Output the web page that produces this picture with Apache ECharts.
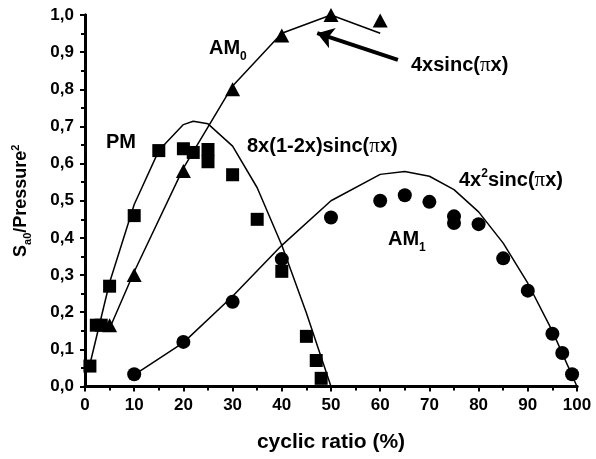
<!DOCTYPE html>
<html>
<head>
<meta charset="utf-8">
<script src="https://cdn.jsdelivr.net/npm/echarts@6/dist/echarts.min.js"></script>
<style>
  html, body { margin: 0; padding: 0; background: #fff; }
  #chart { width: 596px; height: 459px; }
</style>
</head>
<body>
<div id="chart"></div>
<script>
// measured points (cyclic ratio %, S_a0/Pressure^2)
const pmX = [1, 2.3, 3.3, 5, 10, 15, 20, 22, 25, 25, 30, 35, 40, 45, 47, 48];
const pmY = [0.055, 0.165, 0.165, 0.27, 0.46, 0.635, 0.64, 0.63, 0.638, 0.605, 0.57, 0.45, 0.31, 0.135, 0.07, 0.022];

const am0X = [5, 10, 20, 30, 40, 50, 60];
const am0Y = [0.165, 0.30, 0.58, 0.80, 0.945, 1.0, 0.985];

const am1X = [10, 20, 30, 40, 50, 60, 65, 70, 75, 75, 80, 85, 90, 95, 97, 99];
const am1Y = [0.033, 0.12, 0.228, 0.343, 0.455, 0.50, 0.515, 0.497, 0.458, 0.44, 0.437, 0.345, 0.258, 0.142, 0.09, 0.033];

// theory curves
const pmCurveX = [1, 5, 10, 15, 20, 22, 25, 30, 35, 40, 45, 50];
const pmCurveY = [0.06, 0.28, 0.49, 0.635, 0.705, 0.714, 0.707, 0.647, 0.535, 0.38, 0.198, 0];

const am0CurveX = [5, 10, 20, 30, 40, 50, 60];
const am0CurveY = [0.156, 0.309, 0.588, 0.809, 0.951, 1.0, 0.951];

const am1CurveX = [10, 20, 30, 40, 50, 60, 65, 70, 75, 80, 85, 90, 95, 100];
const am1CurveY = [0.031, 0.118, 0.243, 0.38, 0.5, 0.571, 0.579, 0.566, 0.53, 0.47, 0.386, 0.278, 0.149, 0];

// arrow pointing at the AM0 curve
const arrowFrom = [63.6, 0.879];
const arrowTo = [47.2, 0.951];

const FONT = 'Liberation Sans, Arial, sans-serif';

function zip(xs, ys) {
  return xs.map((x, i) => [x, ys[i]]);
}

const chart = echarts.init(document.getElementById('chart'));

const lineStyle = { color: '#000', width: 1.5 };

function curve(xs, ys, extra) {
  return Object.assign({
    type: 'line',
    data: zip(xs, ys),
    showSymbol: false,
    symbol: 'none',
    lineStyle: lineStyle,
    clip: false,
    z: 2
  }, extra || {});
}

function marks(xs, ys, symbol, size) {
  return {
    type: 'scatter',
    data: zip(xs, ys),
    symbol: symbol,
    symbolSize: size,
    itemStyle: { color: '#000', opacity: 1 },
    clip: false,
    z: 3
  };
}

const labelRich = {
  m: { fontFamily: FONT, fontWeight: 'bold', fontSize: 20, color: '#000' },
  s: { fontFamily: FONT, fontWeight: 'bold', fontSize: 12, color: '#000', verticalAlign: 'bottom', padding: [18, 0, 0, 0] },
  u: { fontFamily: FONT, fontWeight: 'bold', fontSize: 12, color: '#000', verticalAlign: 'top', padding: [0, 0, 12, 0] },
  p: { fontFamily: 'Liberation Serif, Times New Roman, serif', fontSize: 21, color: '#000' }
};

function note(x, y, text) {
  return {
    type: 'text',
    left: x,
    top: y,
    z: 10,
    style: { text: text, rich: labelRich, fill: '#000' }
  };
}

const option = {
  animation: false,
  backgroundColor: '#fff',
  grid: { left: 85, right: 19, top: 15, bottom: 72.5 },
  xAxis: [{
    type: 'value', min: 0, max: 100, interval: 10,
    name: 'cyclic ratio (%)', nameLocation: 'middle', nameGap: 45,
    nameTextStyle: { fontFamily: FONT, fontWeight: 'bold', fontSize: 21, color: '#000' },
    axisLine: { lineStyle: { color: '#000', width: 3 } },
    axisTick: { inside: false, length: 5, lineStyle: { color: '#000', width: 2 } },
    minorTick: { show: true, splitNumber: 2, length: 4, lineStyle: { color: '#000', width: 2 } },
    axisLabel: { fontFamily: FONT, fontWeight: 'bold', fontSize: 17, color: '#000', margin: 10 },
    splitLine: { show: false }
  }, {
    type: 'value', min: 0, max: 100, interval: 10, position: 'top',
    axisLine: { lineStyle: { color: '#000', width: 3 } },
    axisTick: { inside: true, length: 4, lineStyle: { color: '#000', width: 2 } },
    minorTick: { show: true, splitNumber: 2, length: 4, lineStyle: { color: '#000', width: 2 } },
    axisLabel: { show: false },
    splitLine: { show: false }
  }],
  yAxis: [{
    type: 'value', min: 0, max: 1, interval: 0.1,
    name: '{m|S}{s|a0}{m|/Pressure}{u|2}', nameLocation: 'middle', nameGap: 52,
    nameTextStyle: {
      rich: {
        m: { fontFamily: FONT, fontWeight: 'bold', fontSize: 18, color: '#000' },
        s: { fontFamily: FONT, fontWeight: 'bold', fontSize: 11, color: '#000', verticalAlign: 'bottom', padding: [12, 0, 0, 0] },
        u: { fontFamily: FONT, fontWeight: 'bold', fontSize: 11, color: '#000', verticalAlign: 'top', padding: [0, 0, 12, 0] }
      }
    },
    axisLine: { lineStyle: { color: '#000', width: 3 } },
    axisTick: { inside: false, length: 5, lineStyle: { color: '#000', width: 2 } },
    minorTick: { show: true, splitNumber: 2, length: 4, lineStyle: { color: '#000', width: 2 } },
    axisLabel: {
      fontFamily: FONT, fontWeight: 'bold', fontSize: 17, color: '#000', margin: 11,
      formatter: v => v.toFixed(1).replace('.', ',')
    },
    splitLine: { show: false }
  }, {
    type: 'value', min: 0, max: 1, interval: 0.1, position: 'right',
    axisLine: { lineStyle: { color: '#000', width: 3 } },
    axisTick: { inside: true, length: 4, lineStyle: { color: '#000', width: 2 } },
    minorTick: { show: true, splitNumber: 2, length: 4, lineStyle: { color: '#000', width: 2 } },
    axisLabel: { show: false },
    splitLine: { show: false }
  }],
  series: [
    curve(pmCurveX, pmCurveY),
    curve(am0CurveX, am0CurveY, {
      markLine: {
        silent: true,
        symbol: ['none', 'arrow'],
        symbolSize: 16,
        label: { show: false },
        lineStyle: { color: '#000', width: 4, type: 'solid' },
        data: [[{ coord: arrowFrom }, { coord: arrowTo }]]
      }
    }),
    curve(am1CurveX, am1CurveY),
    marks(pmX, pmY, 'rect', 13),
    marks(am0X, am0Y, 'triangle', [15, 14]),
    marks(am1X, am1Y, 'circle', 14)
  ],
  graphic: [
    note(209, 38, '{m|AM}{s|0}'),
    note(106, 132, '{m|PM}'),
    note(247, 136, '{m|8x(1-2x)sinc(}{p|π}{m|x)}'),
    note(411, 55, '{m|4xsinc(}{p|π}{m|x)}'),
    note(459, 168, '{m|4x}{u|2}{m|sinc(}{p|π}{m|x)}'),
    note(388, 229, '{m|AM}{s|1}')
  ]
};

chart.setOption(option);
</script>
</body>
</html>
